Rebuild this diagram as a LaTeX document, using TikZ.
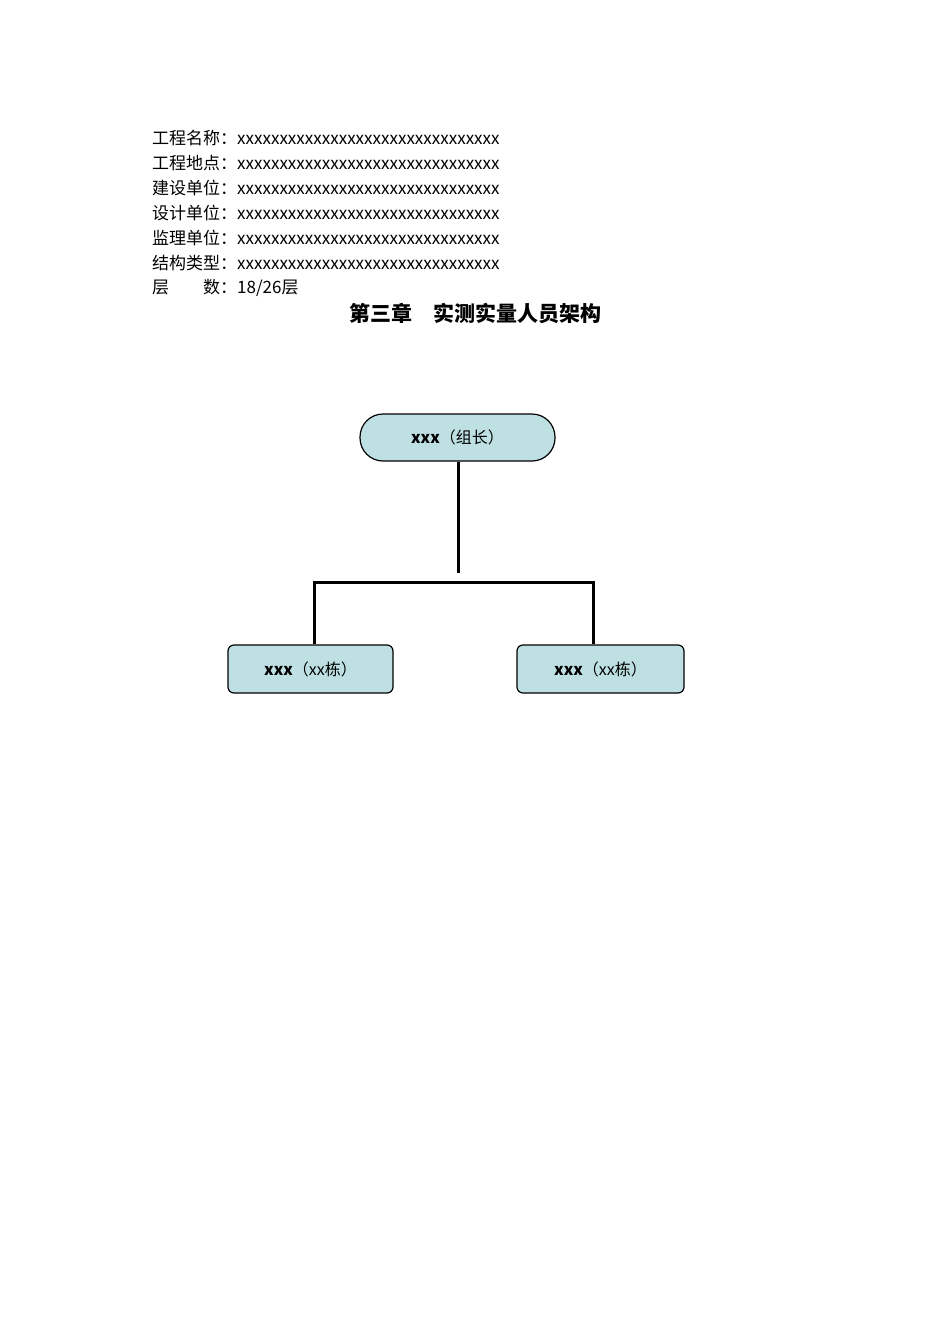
\documentclass[tikz,border=0pt]{standalone}
\usepackage{fontspec}
\setmainfont{Noto Sans CJK SC}
\begin{document}
\begin{tikzpicture}[x=1pt,y=-1pt,
  info/.style={anchor=west,inner sep=0,font=\fontsize{17}{17}\selectfont},
  box/.style={draw=black,line width=1.2pt,fill=boxblue},
  conn/.style={line width=3pt}]
\definecolor{boxblue}{HTML}{BEE0E3}
\useasboundingbox (0,0) rectangle (950,1344);
\foreach \t [count=\i] in {工程名称：xxxxxxxxxxxxxxxxxxxxxxxxxxxxxxx,工程地点：xxxxxxxxxxxxxxxxxxxxxxxxxxxxxxx,建设单位：xxxxxxxxxxxxxxxxxxxxxxxxxxxxxxx,设计单位：xxxxxxxxxxxxxxxxxxxxxxxxxxxxxxx,监理单位：xxxxxxxxxxxxxxxxxxxxxxxxxxxxxxx,结构类型：xxxxxxxxxxxxxxxxxxxxxxxxxxxxxxx}
  \node[info] (l\i) at (152,113+25*\i) {\t};
\node[info] (l7) at (152,288) {层\hspace{2em}数：18/26层};
\node[inner sep=0,font=\fontsize{21}{21}\selectfont\bfseries] (title) at (475,313) {第三章\hspace{1em}实测实量人员架构};
\node[box,rounded corners=23pt,minimum width=195pt,minimum height=47pt,font=\fontsize{16}{16}\selectfont] (top) at (457.5,437.5) {\textbf{xxx}（组长）};
\node[box,rounded corners=6pt,minimum width=165pt,minimum height=48pt,font=\fontsize{16}{16}\selectfont] (lb) at (310.5,669) {\textbf{xxx}（xx栋）};
\node[box,rounded corners=6pt,minimum width=167pt,minimum height=48pt,font=\fontsize{16}{16}\selectfont] (rb) at (600.5,669) {\textbf{xxx}（xx栋）};
\coordinate (j) at (458,573);
\draw[conn] (top.south -| j) -- (j);
\draw[conn] (lb.north -| 314,0) -- (314,582) -- (593,582) -- (rb.north -| 593,0);
\end{tikzpicture}
\end{document}
